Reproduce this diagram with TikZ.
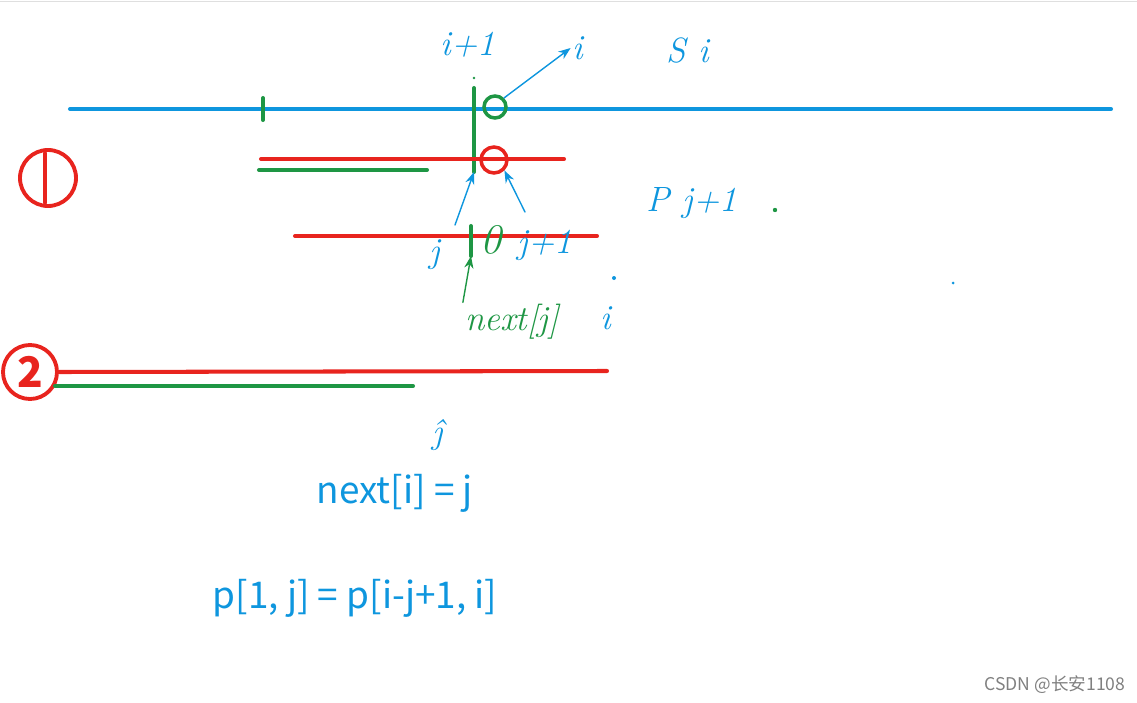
\documentclass[tikz,border=0pt]{standalone}
\usepackage{fontspec}
\newfontfamily\cjk{Noto Sans CJK SC}
\usetikzlibrary{arrows.meta}
\usetikzlibrary{positioning}
\definecolor{penblue}{RGB}{14,150,222}
\definecolor{penred}{RGB}{232,36,30}
\definecolor{pengreen}{RGB}{30,150,68}
\tikzstyle{pen} = [line width=2.3pt,line cap=round]
\tikzstyle{hand} = [font=\itshape\fontsize{20}{20}\selectfont,inner sep=1pt]
\tikzstyle{arrow} = [thick,-{Stealth[length=7pt]},line cap=round]

\begin{document}
\begin{tikzpicture}[x=0.02cm,y=-0.02cm]

    \useasboundingbox (0,0) rectangle (1137,703); % same frame as the screenshot
    \draw[gray!25,thin] (0,1) -- (1137,1);

    \coordinate (SL)   at (70,109);
    \coordinate (SR)   at (1111,109);
    \coordinate (Cut)   at (474,88);
    \coordinate (CutD)   at (474,172);
    \coordinate (TickA)   at (263,98);
    \coordinate (TickB)   at (263,120);
    \coordinate (NxU)   at (471,226);
    \coordinate (NxD)   at (471,256);

    % the string s and the cut after i
    \draw [pen,penblue] (SL) -- (SR);
    \draw [pen,pengreen] (TickA) -- (TickB);
    \draw [pen,pengreen] (Cut) -- (CutD);
    \fill [pengreen] (474,78) circle (1.3);
    \node[draw=pengreen,circle,line width=2pt,minimum size=22*0.02cm,inner sep=0pt] (ci) at (495,107) {};

    % case 1
    \draw [pen,penred] (261,159) -- (564,159);
    \draw [pen,pengreen] (259,170) -- (427,170);
    \node[draw=penred,circle,line width=2pt,minimum size=26*0.02cm,inner sep=0pt] (cj) at (494,160) {};
    \draw [pen,penred] (295,236) -- (597,236);
    \draw [pen,pengreen] (NxU) -- (NxD);
    \node[pengreen,hand,font=\itshape\fontsize{24}{24}\selectfont] (oh) at (491,240) {0};
    \node[draw=penred,circle,line width=2.2pt,minimum size=56*0.02cm,inner sep=0pt] (one) at (48,178) {};
    \draw [pen,penred,shorten <=3pt,shorten >=3pt] ([xshift=-3*0.02cm]one.north) -- ([xshift=-3*0.02cm]one.south);

    % case 2
    \node[draw=penred,circle,line width=2.2pt,minimum size=54*0.02cm,inner sep=0pt,
          font=\cjk\bfseries\fontsize{24}{24}\selectfont,text=penred] (two) at (30,372) {2};
    \draw [pen,penred] (two.east) -- (607,371);
    \draw [pen,pengreen] (55,386) -- (413,386);

    % handwritten notes
    \node[hand,penblue] (ip1) at (468,45) {i+1};
    \node[hand,penblue] (ilab) at (578,48) {i};
    \node[hand,penblue] (si) at (688,50) {S i};
    \draw [arrow,penblue] (ci.north east) -- (ilab.west);

    \node[hand,penblue] (jlab) at (435,255) {j};
    \node[hand,penblue] (j1lab) at (545,245) {j+1};
    \draw [arrow,penblue] (455,225) -- (CutD);
    \draw [arrow,penblue] (525,212) -- (cj.south east);

    \node[hand,pengreen] (nx) at (512,322) {next[j]};
    \node[hand,penblue] (ibot) at (606,318) {i};
    \draw [arrow,pengreen] (nx.north west) -- (NxD);
    \fill [penblue] (614,278) circle (2);

    \node[hand,penblue] (pj) at (692,203) {P j+1};
    \fill [pengreen] (775,210) circle (2.2);
    \fill [penblue] (953,283) circle (1.5);

    \node[hand,penblue] (jhat) at (438,435) {ĵ};

    % formulas
    \node[penblue,font=\cjk\fontsize{21}{21}\selectfont] (nxt) at (395,493) {next[i] = j};
    \node[penblue,font=\cjk\fontsize{21}{21}\selectfont] (peq) at (355,598) {p[1, j] = p[i-j+1, i]};

    \node[gray,font=\cjk\fontsize{10}{10}\selectfont] (mark) at (1055,685) {CSDN @长安1108};

\end{tikzpicture}
\end{document}
